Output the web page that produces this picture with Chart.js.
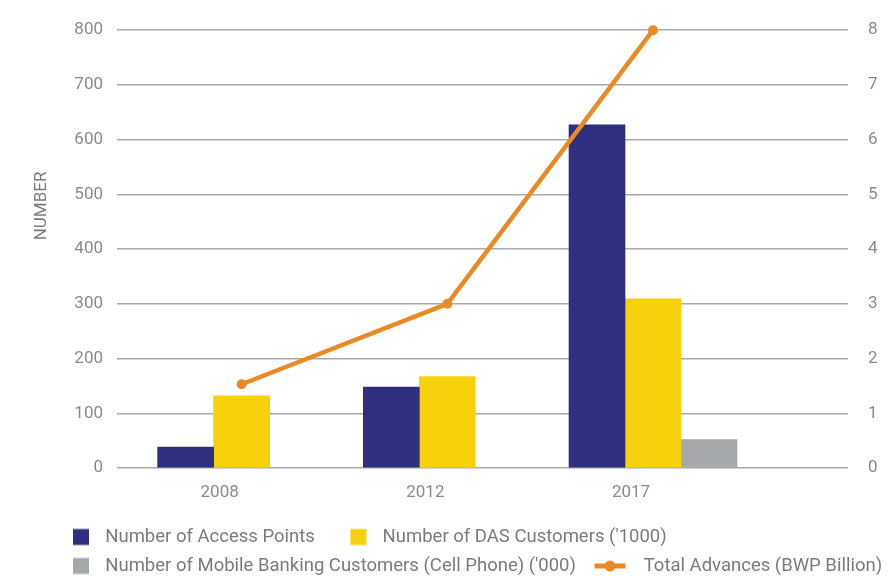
<!DOCTYPE html>
<html>
<head>
<meta charset="utf-8">
<script src="https://cdn.jsdelivr.net/npm/chart.js@4.4.0/dist/chart.umd.min.js"></script>
<style>
  html, body { margin: 0; padding: 0; background: #fff; }
  #wrap { width: 890px; height: 576px; }
</style>
</head>
<body>
<div id="wrap"><canvas id="chart"></canvas></div>
<script>
// Data
const years = ['2008', '2012', '2017'];
const accessPoints = [38, 148, 627];
const dasCustomers = [132, 167, 309];
const mobileCustomers = [null, null, 52];
const totalAdvances = [1.53, 3.0, 8.0];

const navy = '#302e7f';
const yellow = '#f7d10b';
const grey = '#a7a8aa';
const orange = '#e98b25';
const gridColor = '#a9a9a9';
const tickColor = '#8a8a8a';
const legendColor = '#7b7b7b';

Chart.defaults.font.family = 'Roboto';

const toPoints = (arr) => arr.map((v, i) => ({ x: i, y: v }));

// Legend markers: small canvases so the gap between swatch and text matches
const makeMarker = (color, isLine) => {
    const c = document.createElement('canvas');
    c.width = 48;
    c.height = 19;
    const g = c.getContext('2d');
    g.fillStyle = color;
    if (isLine) {
        g.fillRect(8, 7, 31, 5);
        g.beginPath();
        g.arc(23.5, 9.5, 5.5, 0, Math.PI * 2);
        g.fill();
    } else {
        g.fillRect(25, 1.5, 16, 16);
    }
    return c;
};
const markers = [makeMarker(navy), makeMarker(yellow), makeMarker(grey), makeMarker(orange, true)];

// Rotated left title, placed like the original (not centred on the axis)
const axisTitle = {
    id: 'axisTitle',
    afterDraw(chart) {
        const ctx = chart.ctx;
        ctx.save();
        ctx.translate(42, 206);
        ctx.rotate(-Math.PI / 2);
        ctx.font = '17px Roboto';
        ctx.fillStyle = legendColor;
        ctx.textAlign = 'center';
        ctx.textBaseline = 'middle';
        ctx.fillText('NUMBER', 0, 0);
        ctx.restore();
    }
};

const tickFont = { family: 'Roboto', size: 17 };

new Chart(document.getElementById('chart'), {
    type: 'bar',
    data: {
        datasets: [
            { label: 'Number of Access Points', data: toPoints(accessPoints), backgroundColor: navy, yAxisID: 'y', order: 2 },
            { label: "Number of DAS Customers ('1000)", data: toPoints(dasCustomers), backgroundColor: yellow, yAxisID: 'y', order: 2 },
            { label: "Number of Mobile Banking Customers (Cell Phone) ('000)", data: toPoints(mobileCustomers), backgroundColor: grey, yAxisID: 'y', order: 2 },
            {
                type: 'line',
                label: 'Total Advances (BWP Billion)',
                data: toPoints(totalAdvances),
                borderColor: orange,
                backgroundColor: orange,
                borderWidth: 4.5,
                pointRadius: 5,
                pointHoverRadius: 5,
                pointBorderWidth: 0,
                clip: false,
                yAxisID: 'y1',
                order: 1
            }
        ]
    },
    options: {
        responsive: true,
        maintainAspectRatio: false,
        animation: false,
        layout: { padding: { left: 37.5, right: -20, top: 28, bottom: -9.25 } },
        datasets: { bar: { barThickness: 56 } },
        plugins: {
            legend: {
                position: 'bottom',
                align: 'start',
                labels: {
                    usePointStyle: true,
                    pointStyleWidth: 48,
                    padding: 10.5,
                    color: legendColor,
                    font: { family: 'Roboto', size: 18.5 },
                    sort: (a, b) => a.datasetIndex - b.datasetIndex,
                    generateLabels: (chart) => Chart.defaults.plugins.legend.labels.generateLabels(chart)
                        .map(item => ({ ...item, pointStyle: markers[item.datasetIndex] }))
                }
            }
        },
        scales: {
            x: {
                type: 'linear',
                offset: false,
                min: -0.606,
                max: 2.948,
                grid: { display: false, offset: false },
                border: { display: false },
                afterBuildTicks: (s) => { s.ticks = years.map((_, i) => ({ value: i })); },
                afterFit: (s) => { s.height = 49.25; },
                ticks: {
                    callback: (v) => years[v],
                    color: tickColor,
                    font: tickFont,
                    padding: 7,
                    labelOffset: -22,
                    maxRotation: 0,
                    autoSkip: false
                }
            },
            y: {
                position: 'left',
                min: 0,
                max: 800,
                grid: { color: gridColor, lineWidth: 1.5, drawTicks: false },
                border: { display: false },
                afterFit: (s) => { s.width = 79.5; },
                ticks: { stepSize: 100, padding: 14, color: tickColor, font: tickFont }
            },
            y1: {
                position: 'right',
                min: 0,
                max: 8,
                grid: { drawOnChartArea: false, drawTicks: false },
                border: { display: false },
                afterFit: (s) => { s.width = 62; },
                ticks: { stepSize: 1, padding: 20, color: tickColor, font: tickFont }
            }
        }
    },
    plugins: [axisTitle]
});
</script>
</body>
</html>
